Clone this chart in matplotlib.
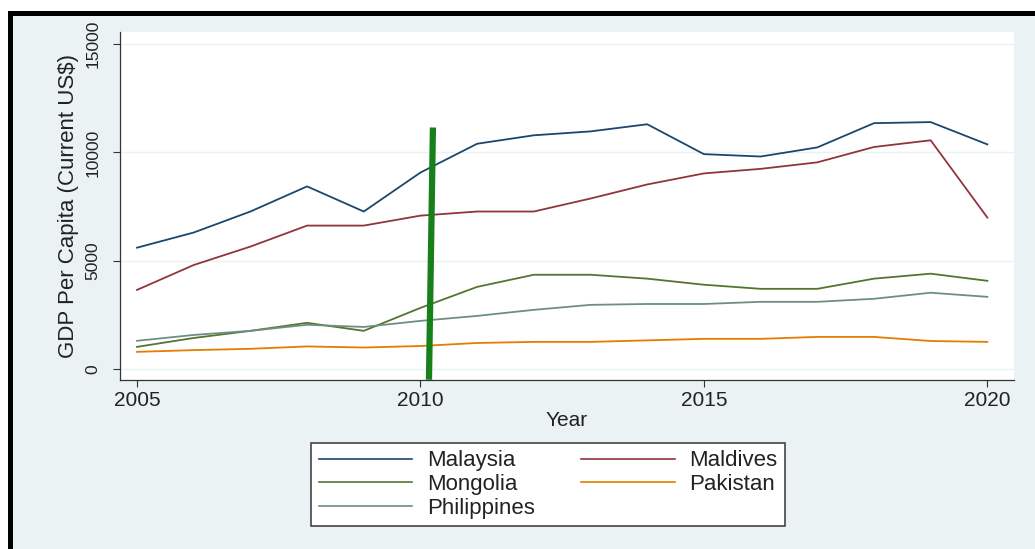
import matplotlib.pyplot as plt
from matplotlib.patches import Rectangle
from matplotlib.lines import Line2D

plt.rcParams['font.family'] = ['Liberation Sans', 'DejaVu Sans']

years = list(range(2005, 2021))
malaysia = [5600, 6300, 7270, 8430, 7270, 9070, 10400, 10790, 10970, 11300,
            9920, 9810, 10230, 11350, 11400, 10370]
maldives = [3650, 4800, 5650, 6620, 6620, 7080, 7270, 7270, 7870, 8520,
            9030, 9240, 9540, 10250, 10560, 6990]
mongolia = [1020, 1430, 1760, 2130, 1760, 2820, 3790, 4350, 4350, 4170,
            3890, 3700, 3700, 4170, 4400, 4070]
pakistan = [790, 870, 930, 1040, 990, 1060, 1200, 1250, 1250, 1320,
            1390, 1390, 1480, 1480, 1290, 1250]
philippines = [1300, 1570, 1760, 2040, 1940, 2220, 2450, 2730, 2960, 3000,
               3000, 3100, 3100, 3240, 3520, 3330]

# marker line drawn by hand on the original (slightly slanted)
mark_x = [2010.15, 2010.22]
mark_y = [-500, 11150]

W, H = 1035, 549
fig = plt.figure(figsize=(W / 100, H / 100), dpi=100)
fig.patch.set_facecolor('white')

# stata-like outer background + black edge (image cropped right/bottom)
fig.patches.append(Rectangle((13 / W, 0), 1 - 13 / W, 1 - 16 / H,
                             transform=fig.transFigure, facecolor='#eaf2f3',
                             edgecolor='none', zorder=-3))
fig.patches.append(Rectangle((8 / W, 0), 5 / W, 1 - 11 / H,
                             transform=fig.transFigure, facecolor='black',
                             edgecolor='none', zorder=-2))
fig.patches.append(Rectangle((8 / W, 1 - 16 / H), 1 - 8 / W, 5 / H,
                             transform=fig.transFigure, facecolor='black',
                             edgecolor='none', zorder=-2))

ax = fig.add_axes([120 / W, 1 - 380 / H, (1014 - 120) / W, (380 - 32) / H])
ax.set_facecolor('white')

ax.plot(years, malaysia, color='#1a476f', lw=1.3, label='Malaysia')
ax.plot(years, maldives, color='#90353b', lw=1.3, label='Maldives')
ax.plot(years, mongolia, color='#55752f', lw=1.3, label='Mongolia')
ax.plot(years, pakistan, color='#e37e00', lw=1.3, label='Pakistan')
ax.plot(years, philippines, color='#6e8e84', lw=1.3, label='Philippines')
ax.plot(mark_x, mark_y, color='#17801a', lw=4.5, solid_capstyle='butt',
        clip_on=False)

ax.set_xlim(2004.70, 2020.47)
ax.set_ylim(-510, 15560)
ax.set_xticks([2005, 2010, 2015, 2020])
ax.set_yticks([0, 5000, 10000, 15000])
ax.set_yticklabels(['0', '5000', '10000', '15000'], rotation=90, va='center')
ax.tick_params(axis='x', labelsize=15, length=5, width=0.8, color='#333333',
               pad=3)
ax.tick_params(axis='y', labelsize=12.5, length=5, width=0.8, color='#333333',
               pad=9)
for lab in ax.get_xticklabels() + ax.get_yticklabels():
    lab.set_color('#222222')
ax.grid(axis='y', color='#eaf2f3', lw=1)
ax.set_axisbelow(True)
for side in ['top', 'right']:
    ax.spines[side].set_visible(False)
for side in ['left', 'bottom']:
    ax.spines[side].set_color('#333333')
    ax.spines[side].set_linewidth(0.9)

ax.set_xlabel('Year', fontsize=15, color='#222222', labelpad=1)
ax.set_ylabel('GDP Per Capita (Current US$)', fontsize=16, color='#222222',
              labelpad=5)

handles = [Line2D([], [], color=c, lw=1.2) for c in
           ['#1a476f', '#55752f', '#6e8e84', '#90353b', '#e37e00']]
labels = ['Malaysia', 'Mongolia', 'Philippines', 'Maldives', 'Pakistan']
leg = fig.legend(handles, labels, ncol=2, loc='center',
                 bbox_to_anchor=(548 / W, 1 - 484.5 / H),
                 fontsize=16, frameon=True, fancybox=False, framealpha=1,
                 handlelength=4.2, handletextpad=0.65, columnspacing=2.1,
                 labelspacing=0.12, borderpad=0.35, borderaxespad=0)
leg.get_frame().set_edgecolor('#444444')
leg.get_frame().set_linewidth(1.2)
for t in leg.get_texts():
    t.set_color('#222222')

plt.savefig('out.png', dpi=100)
